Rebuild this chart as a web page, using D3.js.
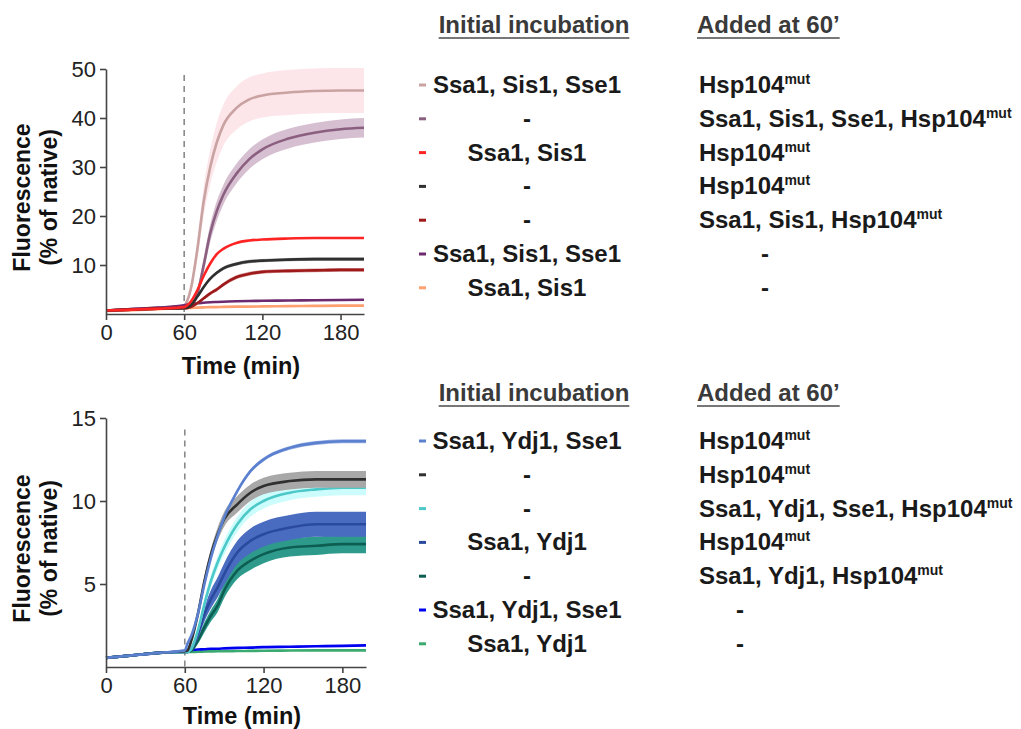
<!DOCTYPE html>
<html>
<head>
<meta charset="utf-8">
<script src="https://cdn.jsdelivr.net/npm/d3@7"></script>
<style>
  body { margin: 0; background: #fff; }
  svg text { font-family: "Liberation Sans", Arial, sans-serif; }
</style>
</head>
<body>
<svg id="chart" width="1021" height="729"></svg>
<script>
// time points (min) shared by every curve
var times = [0, 20, 40, 60, 62, 65, 70, 75, 80, 85, 90, 100, 110, 120, 140, 160, 180, 198];

// TOP PANEL (Sis1)
var topColors = ["#c9a2a2", "#8a5f80", "#ff2424", "#303030", "#9e1a1a", "#6e2a6e", "#ffa070"];
var topBands  = ["#fce6ea", "#d6bfd0", null, "#9a9a9a", "#d9a0a0", null, null];
var topMeans = [
  [0.7, 1.0, 1.3, 1.7, 2.5, 5, 13, 23, 30, 35, 38.5, 42, 43.8, 44.6, 45.2, 45.5, 45.6, 45.6],
  [0.7, 1.0, 1.2, 1.5, 1.5, 1.8, 4, 10, 16.5, 21, 24.3, 28.6, 31.6, 33.6, 35.8, 37, 37.7, 38],
  [0.7, 0.9, 1.1, 1.4, 1.7, 2.5, 4.8, 7.8, 10.3, 12.2, 13.3, 14.5, 15, 15.2, 15.4, 15.5, 15.5, 15.5],
  [0.7, 0.9, 1.1, 1.2, 1.3, 1.8, 3.5, 5.5, 7.2, 8.4, 9.3, 10.2, 10.7, 10.9, 11.1, 11.2, 11.2, 11.2],
  [0.7, 0.9, 1.1, 1.2, 1.2, 1.4, 2.2, 3.2, 4.2, 5, 6, 7.5, 8.2, 8.6, 8.8, 8.9, 9, 9],
  [0.7, 1.0, 1.3, 1.8, 1.9, 2.0, 2.2, 2.3, 2.4, 2.45, 2.5, 2.6, 2.65, 2.7, 2.75, 2.8, 2.85, 2.9],
  [0.6, 0.8, 1.0, 1.2, 1.2, 1.25, 1.3, 1.35, 1.4, 1.4, 1.45, 1.5, 1.5, 1.55, 1.6, 1.65, 1.7, 1.7]
];
var topSds = [
  [0.2, 0.2, 0.2, 0.3, 0.5, 1, 2, 3, 3.5, 4, 4.2, 4.4, 4.5, 4.5, 4.6, 4.6, 4.6, 4.6],
  [0.1, 0.1, 0.1, 0.2, 0.3, 0.5, 1, 1.5, 1.8, 2, 2, 2, 2, 2, 2, 2, 2, 2],
  [0, 0, 0, 0, 0, 0, 0, 0, 0, 0, 0, 0, 0, 0, 0, 0, 0, 0],
  [0.1, 0.1, 0.1, 0.1, 0.1, 0.2, 0.3, 0.3, 0.35, 0.35, 0.35, 0.35, 0.35, 0.35, 0.35, 0.35, 0.35, 0.35],
  [0.1, 0.1, 0.1, 0.1, 0.1, 0.2, 0.3, 0.3, 0.35, 0.4, 0.4, 0.4, 0.4, 0.4, 0.4, 0.4, 0.4, 0.4],
  [0, 0, 0, 0, 0, 0, 0, 0, 0, 0, 0, 0, 0, 0, 0, 0, 0, 0],
  [0, 0, 0, 0, 0, 0, 0, 0, 0, 0, 0, 0, 0, 0, 0, 0, 0, 0]
];
var topOrder = [0, 1, 6, 5, 4, 3, 2];
var topInitial = ["Ssa1, Sis1, Sse1", "-", "Ssa1, Sis1", "-", "-", "Ssa1, Sis1, Sse1", "Ssa1, Sis1"];
var topAdded = ["Hsp104", "Ssa1, Sis1, Sse1, Hsp104", "Hsp104", "Hsp104", "Ssa1, Sis1, Hsp104", "-", "-"];
var topYTicks = [10, 20, 30, 40, 50];

// BOTTOM PANEL (Ydj1)
var botColors = ["#5b80cf", "#303030", "#4cc8c8", "#2a4a9e", "#0d5e52", "#0000f0", "#3aaa70"];
var botBands  = ["#9fb4e4", "#a8a8a8", "#ccfcfc", "#4a6cc0", "#2e9a8c", null, null];
var botMeans = [
  [0.55, 0.7, 0.85, 1.0, 1.4, 1.9, 3.2, 5, 6.6, 7.9, 9, 10.6, 11.8, 12.5, 13.2, 13.5, 13.6, 13.6],
  [0.55, 0.7, 0.85, 0.95, 1.0, 1.6, 3.2, 5.2, 6.8, 8, 8.9, 9.8, 10.5, 10.9, 11.2, 11.3, 11.3, 11.3],
  [0.55, 0.7, 0.85, 0.9, 0.9, 1.1, 2.2, 3.8, 5.2, 6.3, 7.2, 8.6, 9.5, 10, 10.5, 10.7, 10.8, 10.8],
  [0.55, 0.7, 0.85, 0.9, 0.9, 1.1, 2, 3.2, 4.1, 4.8, 5.6, 6.9, 7.6, 8, 8.4, 8.6, 8.6, 8.6],
  [0.55, 0.7, 0.85, 0.9, 0.9, 1.0, 1.6, 2.4, 3.1, 3.7, 4.6, 5.8, 6.4, 6.8, 7.2, 7.3, 7.4, 7.4],
  [0.55, 0.7, 0.85, 0.95, 1.0, 1.02, 1.05, 1.07, 1.1, 1.1, 1.12, 1.15, 1.17, 1.2, 1.22, 1.25, 1.27, 1.3],
  [0.55, 0.7, 0.85, 0.9, 0.9, 0.9, 0.92, 0.93, 0.94, 0.95, 0.95, 0.96, 0.97, 0.98, 0.99, 1.0, 1.0, 1.0]
];
var botSds = [
  [0.03, 0.03, 0.03, 0.05, 0.1, 0.1, 0.12, 0.12, 0.12, 0.12, 0.12, 0.12, 0.12, 0.12, 0.12, 0.12, 0.12, 0.12],
  [0.03, 0.03, 0.03, 0.05, 0.1, 0.15, 0.25, 0.3, 0.35, 0.4, 0.45, 0.5, 0.5, 0.5, 0.5, 0.5, 0.5, 0.5],
  [0.03, 0.03, 0.03, 0.05, 0.05, 0.1, 0.2, 0.3, 0.35, 0.4, 0.45, 0.45, 0.45, 0.45, 0.45, 0.45, 0.45, 0.45],
  [0.03, 0.03, 0.03, 0.05, 0.05, 0.1, 0.3, 0.45, 0.55, 0.6, 0.65, 0.7, 0.75, 0.75, 0.75, 0.75, 0.75, 0.75],
  [0.03, 0.03, 0.03, 0.05, 0.05, 0.1, 0.2, 0.3, 0.35, 0.4, 0.45, 0.5, 0.55, 0.55, 0.55, 0.55, 0.55, 0.55],
  [0, 0, 0, 0, 0, 0, 0, 0, 0, 0, 0, 0, 0, 0, 0, 0, 0, 0],
  [0, 0, 0, 0, 0, 0, 0, 0, 0, 0, 0, 0, 0, 0, 0, 0, 0, 0]
];
var botOrder = [6, 5, 4, 3, 2, 1, 0];
var botInitial = ["Ssa1, Ydj1, Sse1", "-", "-", "Ssa1, Ydj1", "-", "Ssa1, Ydj1, Sse1", "Ssa1, Ydj1"];
var botAdded = ["Hsp104", "Hsp104", "Ssa1, Ydj1, Sse1, Hsp104", "Hsp104", "Ssa1, Ydj1, Hsp104", "-", "-"];
var botYTicks = [5, 10, 15];

var xTicks = [0, 60, 120, 180];
var headers = ["Initial incubation", "Added at 60\u2019"];

var svg = d3.select("#chart");

drawPanel({
  top: 69, bottom: 314, left: 106, right: 364, yMax: 50, dashTop: 48.8, titleGap: 60,
  yTicks: topYTicks, colors: topColors, bands: topBands, means: topMeans, sds: topSds,
  order: topOrder, initial: topInitial, added: topAdded,
  headerY: 25, rowY: 85, rowStep: 33.8, dashX: 765
});
drawPanel({
  top: 418, bottom: 667, left: 106, right: 366, yMax: 15, dashTop: 14.3, titleGap: 57,
  yTicks: botYTicks, colors: botColors, bands: botBands, means: botMeans, sds: botSds,
  order: botOrder, initial: botInitial, added: botAdded,
  headerY: 393, rowY: 441, rowStep: 33.8, dashX: 740
});

function drawPanel(p) {
  var x = d3.scaleLinear().domain([0, 198]).range([p.left, p.right]);
  var y = d3.scaleLinear().domain([0, p.yMax]).range([p.bottom, p.top]);
  var g = svg.append("g");

  // dashed line at 60 min
  g.append("line")
    .attr("x1", x(60)).attr("x2", x(60))
    .attr("y1", y(p.dashTop)).attr("y2", y(0))
    .attr("stroke", "#8a8a8a").attr("stroke-width", 1.6)
    .attr("stroke-dasharray", "6,5");

  var line = d3.line().curve(d3.curveMonotoneX)
    .x(function (d, i) { return x(times[i]); })
    .y(function (d) { return y(d); });

  p.order.forEach(function (k) {
    var mean = p.means[k], sd = p.sds[k];
    if (p.bands[k]) {
      var area = d3.area().curve(d3.curveMonotoneX)
        .x(function (d, i) { return x(times[i]); })
        .y0(function (d, i) { return y(d - sd[i]); })
        .y1(function (d, i) { return y(d + sd[i]); });
      g.append("path").datum(mean).attr("d", area)
        .attr("fill", p.bands[k]).attr("stroke", "none");
    }
    g.append("path").datum(mean).attr("d", line)
      .attr("fill", "none").attr("stroke", p.colors[k])
      .attr("stroke-width", 2.6);
  });

  // axes
  var yAxis = d3.axisLeft(y).tickValues(p.yTicks).tickSize(6).tickSizeOuter(0).tickPadding(4);
  var xAxis = d3.axisBottom(x).tickValues(xTicks).tickSize(6).tickSizeOuter(0).tickPadding(4);
  var ya = g.append("g").attr("transform", "translate(" + p.left + ",0)").call(yAxis);
  var xa = g.append("g").attr("transform", "translate(0," + p.bottom + ")").call(xAxis);
  [ya, xa].forEach(function (a) {
    a.select(".domain").attr("stroke", "#444").attr("stroke-width", 1.6);
    a.selectAll(".tick line").attr("stroke", "#444").attr("stroke-width", 1.6);
    a.selectAll(".tick text").attr("fill", "#222").style("font-size", "22px");
  });

  g.append("text")
    .attr("x", (p.left + p.right) / 2 + 6).attr("y", p.bottom + p.titleGap)
    .attr("text-anchor", "middle")
    .style("font-size", "23.5px").style("font-weight", "bold").attr("fill", "#111")
    .text("Time (min)");

  var ty = g.append("text")
    .attr("transform", "translate(30," + ((p.top + p.bottom) / 2 + 6) + ") rotate(-90)")
    .attr("text-anchor", "middle")
    .style("font-size", "23px").style("font-weight", "bold").attr("fill", "#111");
  ty.append("tspan").attr("x", 0).attr("dy", 0).text("Fluorescence");
  ty.append("tspan").attr("x", 0).attr("dy", 27).text("(% of native)");

  // legend headers
  var hx = [534, 697];
  headers.forEach(function (h, i) {
    var t = g.append("text")
      .attr("x", hx[i]).attr("y", p.headerY + 8)
      .attr("text-anchor", i === 0 ? "middle" : "start")
      .style("font-size", "24px").style("font-weight", "bold").attr("fill", "#3a3a3a")
      .text(h);
    var bb = t.node().getBBox();
    g.append("line")
      .attr("x1", bb.x).attr("x2", bb.x + bb.width)
      .attr("y1", p.headerY + 13).attr("y2", p.headerY + 13)
      .attr("stroke", "#777").attr("stroke-width", 2);
  });

  // legend rows
  p.initial.forEach(function (lab, i) {
    var cy = p.rowY + i * p.rowStep;
    g.append("line")
      .attr("x1", 419).attr("x2", 426).attr("y1", cy).attr("y2", cy)
      .attr("stroke", p.colors[i]).attr("stroke-width", 3);
    g.append("text")
      .attr("x", 527).attr("y", cy + 8).attr("text-anchor", "middle")
      .style("font-size", "24px").style("font-weight", "bold").attr("fill", "#1a1a1a")
      .text(lab);

    var add = p.added[i];
    var at = g.append("text")
      .attr("x", add === "-" ? p.dashX : 699).attr("y", cy + 8)
      .attr("text-anchor", add === "-" ? "middle" : "start")
      .style("font-size", "24px").style("font-weight", "bold").attr("fill", "#1a1a1a");
    at.append("tspan").text(add);
    if (/Hsp104$/.test(add)) {
      at.append("tspan").attr("dy", -9).style("font-size", "14px").text("mut");
    }
  });
}
</script>
</body>
</html>
